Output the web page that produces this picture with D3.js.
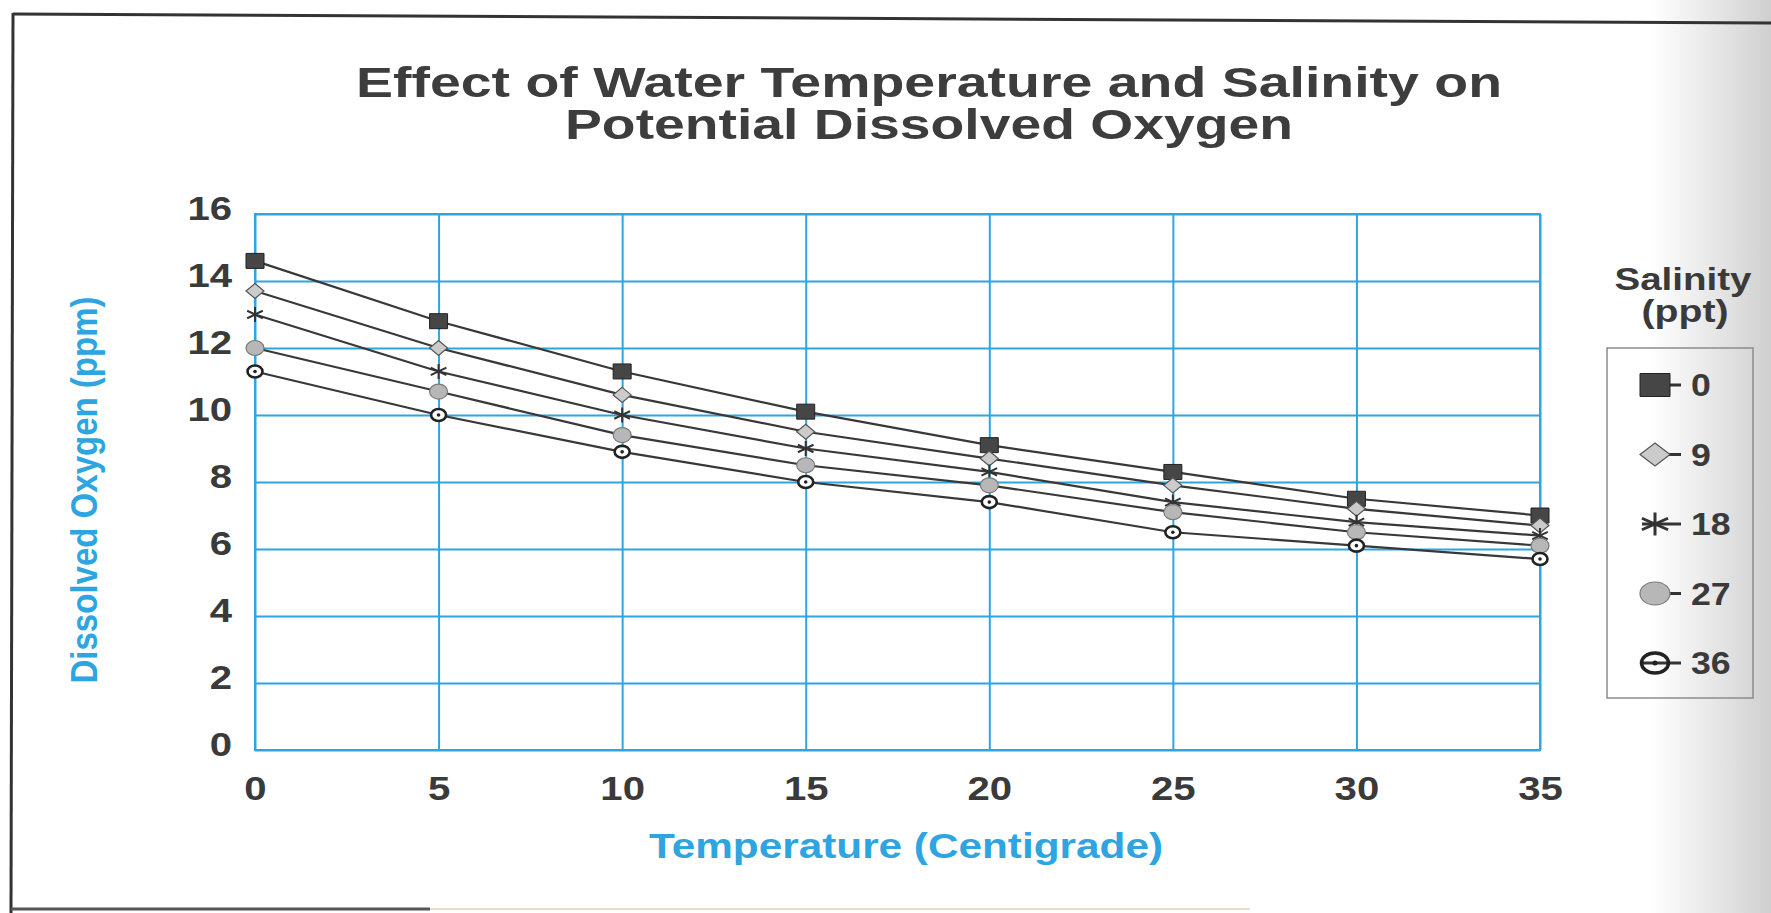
<!DOCTYPE html>
<html>
<head>
<meta charset="utf-8">
<script src="https://cdn.jsdelivr.net/npm/d3@7"></script>
<style>
  body { margin: 0; background: #fff; }
  svg { display: block; font-family: "Liberation Sans", Arial, Helvetica, sans-serif; font-weight: bold; }
</style>
</head>
<body>
<script>
// values (ppm of dissolved oxygen)
var temps = [0, 5, 10, 15, 20, 25, 30, 35];
var salinities = ["0", "9", "18", "27", "36"];
var oxy0  = [14.6, 12.8, 11.3, 10.1, 9.1, 8.3, 7.5, 7.0];
var oxy9  = [13.7, 12.0, 10.6, 9.5, 8.7, 7.9, 7.2, 6.7];
var oxy18 = [13.0, 11.3, 10.0, 9.0, 8.3, 7.4, 6.8, 6.4];
var oxy27 = [12.0, 10.7, 9.4, 8.5, 7.9, 7.1, 6.5, 6.1];
var oxy36 = [11.3, 10.0, 8.9, 8.0, 7.4, 6.5, 6.1, 5.7];
var yTicks = [0, 2, 4, 6, 8, 10, 12, 14, 16];
var xTicks = [0, 5, 10, 15, 20, 25, 30, 35];

var W = 1771, H = 913;
var plotL = 255, plotR = 1540, plotT = 214, plotB = 750;
var blue = "#2ea5e0", ink = "#3a3a3a";

var series = [
  {name: salinities[0], values: oxy0,  shape: "square"},
  {name: salinities[1], values: oxy9,  shape: "diamond"},
  {name: salinities[2], values: oxy18, shape: "star"},
  {name: salinities[3], values: oxy27, shape: "circle"},
  {name: salinities[4], values: oxy36, shape: "ring"}
];

var svg = d3.select("body").append("svg")
    .attr("width", W)
    .attr("height", H);

// grey shadow of the scanner at the right edge
var grad = svg.append("defs").append("linearGradient")
    .attr("id", "shade").attr("x1", 0).attr("x2", 1).attr("y1", 0).attr("y2", 0);
grad.append("stop").attr("offset", "0%").attr("stop-color", "#ffffff");
grad.append("stop").attr("offset", "55%").attr("stop-color", "#e6e6e6");
grad.append("stop").attr("offset", "100%").attr("stop-color", "#cfcfcf");
svg.append("rect")
    .attr("x", 1650).attr("y", 0).attr("width", W - 1650).attr("height", H)
    .attr("fill", "url(#shade)");

// page frame
svg.append("line").attr("x1", 13).attr("y1", 14).attr("x2", W).attr("y2", 23)
    .attr("stroke", "#333").attr("stroke-width", 3);
svg.append("line").attr("x1", 13).attr("y1", 13).attr("x2", 11).attr("y2", H)
    .attr("stroke", "#333").attr("stroke-width", 3);
svg.append("line").attr("x1", 11).attr("y1", 909).attr("x2", 430).attr("y2", 909)
    .attr("stroke", "#555").attr("stroke-width", 3);
svg.append("line").attr("x1", 430).attr("y1", 909).attr("x2", 1250).attr("y2", 909)
    .attr("stroke", "#e4e0cc").attr("stroke-width", 2);

// stretch text sideways like the scan does
function widen(sel, k) {
  sel.each(function() {
    var len = this.getComputedTextLength();
    d3.select(this).attr("textLength", len * k).attr("lengthAdjust", "spacingAndGlyphs");
  });
}

// title
var titleLines = ["Effect of Water Temperature and Salinity on", "Potential Dissolved Oxygen"];
var titleWidths = [1146, 728];
svg.selectAll(".title")
    .data(titleLines)
  .enter().append("text")
    .attr("class", "title")
    .attr("x", 929)
    .attr("y", function(d, i) { return 97 + i * 42; })
    .attr("text-anchor", "middle")
    .attr("font-size", 43)
    .attr("fill", "#3d3d3d")
    .attr("textLength", function(d, i) { return titleWidths[i]; })
    .attr("lengthAdjust", "spacingAndGlyphs")
    .text(function(d) { return d; });

var x = d3.scaleLinear().domain([0, 35]).range([plotL, plotR]);
var y = d3.scaleLinear().domain([0, 16]).range([plotB, plotT]);

// grid + tick labels
var gx = svg.append("g")
    .attr("transform", "translate(0," + plotB + ")")
    .call(d3.axisBottom(x).tickValues(xTicks).tickSize(-(plotB - plotT)).tickPadding(26));
var gy = svg.append("g")
    .attr("transform", "translate(" + plotL + ",0)")
    .call(d3.axisLeft(y).tickValues(yTicks).tickSize(-(plotR - plotL)).tickPadding(23));

[gx, gy].forEach(function(g) {
  g.select(".domain").remove();
  g.selectAll(".tick line").attr("stroke", blue).attr("stroke-width", 2);
  g.selectAll(".tick text")
      .attr("font-size", 34)
      .attr("font-family", "'Liberation Sans', Arial, sans-serif")
      .attr("font-weight", "bold")
      .attr("fill", ink);
});
gy.selectAll(".tick text").attr("dy", "0.16em");
widen(gx.selectAll(".tick text"), 1.18);
widen(gy.selectAll(".tick text"), 1.18);

svg.append("rect")
    .attr("x", plotL).attr("y", plotT)
    .attr("width", plotR - plotL).attr("height", plotB - plotT)
    .attr("fill", "none").attr("stroke", blue).attr("stroke-width", 2);

// axis titles
svg.append("text")
    .attr("x", 906).attr("y", 858)
    .attr("text-anchor", "middle")
    .attr("font-size", 35)
    .attr("fill", blue)
    .attr("textLength", 514).attr("lengthAdjust", "spacingAndGlyphs")
    .text("Temperature (Centigrade)");

svg.append("text")
    .attr("transform", "translate(97,490) rotate(-90)")
    .attr("text-anchor", "middle")
    .attr("font-size", 37)
    .attr("fill", blue)
    .attr("textLength", 387).attr("lengthAdjust", "spacingAndGlyphs")
    .text("Dissolved Oxygen (ppm)");

// marker drawing
function drawMarker(g, shape, w, h, legend) {
  if (shape == "square") {
    g.append("path")
        .attr("d", "M" + (-w / 2) + "," + (-h / 2) + "h" + w + "v" + h + "h" + (-w) + "Z")
        .attr("fill", "#464646").attr("stroke", "#222").attr("stroke-width", 1);
  } else if (shape == "diamond") {
    g.append("path")
        .attr("d", "M0," + (-h / 2) + "L" + (w / 2) + ",0L0," + (h / 2) + "L" + (-w / 2) + ",0Z")
        .attr("fill", "#cbcbcb").attr("stroke", "#555").attr("stroke-width", 1.2);
  } else if (shape == "star") {
    var a = w / 2 * 0.87, b = h / 2 * 0.5;
    g.append("path")
        .attr("d", "M0," + (-h / 2) + "V" + (h / 2) +
                   "M" + (-a) + "," + (-b) + "L" + a + "," + b +
                   "M" + (-a) + "," + b + "L" + a + "," + (-b))
        .attr("fill", "none").attr("stroke", "#333").attr("stroke-width", legend ? 3 : 2);
  } else if (shape == "circle") {
    g.append("ellipse")
        .attr("rx", w / 2).attr("ry", h / 2)
        .attr("fill", "#b7b7b7").attr("stroke", "#7a7a7a").attr("stroke-width", 1.2);
  } else {
    g.append("ellipse")
        .attr("rx", w / 2 - 1.5).attr("ry", h / 2 - 1.5)
        .attr("fill", legend ? "none" : "#fff").attr("stroke", "#222").attr("stroke-width", legend ? 3.5 : 2.6);
    g.append("circle").attr("r", legend ? 2.5 : 1.8).attr("fill", "#222");
  }
}

// series lines
var line = d3.line()
    .x(function(d, i) { return x(temps[i]); })
    .y(function(d) { return y(d); });

svg.selectAll(".series")
    .data(series)
  .enter().append("path")
    .attr("class", "series")
    .attr("d", function(d) { return line(d.values); })
    .attr("fill", "none")
    .attr("stroke", "#383838")
    .attr("stroke-width", 2.2);

series.forEach(function(s) {
  s.values.forEach(function(v, i) {
    var g = svg.append("g").attr("transform", "translate(" + x(temps[i]) + "," + y(v) + ")");
    drawMarker(g, s.shape, 18, 15, false);
  });
});

// legend
svg.append("text")
    .attr("x", 1683).attr("y", 290)
    .attr("text-anchor", "middle")
    .attr("font-size", 32).attr("fill", ink)
    .attr("textLength", 137).attr("lengthAdjust", "spacingAndGlyphs")
    .text("Salinity");
svg.append("text")
    .attr("x", 1685).attr("y", 322)
    .attr("text-anchor", "middle")
    .attr("font-size", 32).attr("fill", ink)
    .attr("textLength", 87).attr("lengthAdjust", "spacingAndGlyphs")
    .text("(ppt)");

svg.append("rect")
    .attr("x", 1607).attr("y", 348).attr("width", 146).attr("height", 350)
    .attr("fill", "none").attr("stroke", "#8c8c8c").attr("stroke-width", 1.5);

var ly = d3.scalePoint().domain(salinities).range([385, 663]);

var items = svg.selectAll(".legend-item")
    .data(series)
  .enter().append("g")
    .attr("class", "legend-item")
    .attr("transform", function(d) { return "translate(1655," + ly(d.name) + ")"; });

items.append("line")
    .attr("x1", -13).attr("x2", 26)
    .attr("stroke", "#333").attr("stroke-width", 3);
items.each(function(d) { drawMarker(d3.select(this), d.shape, 30, 23, true); });
var ltext = items.append("text")
    .attr("x", 36).attr("y", 11)
    .attr("font-size", 31).attr("fill", ink)
    .text(function(d) { return d.name; });
widen(ltext, 1.15);
</script>
</body>
</html>
